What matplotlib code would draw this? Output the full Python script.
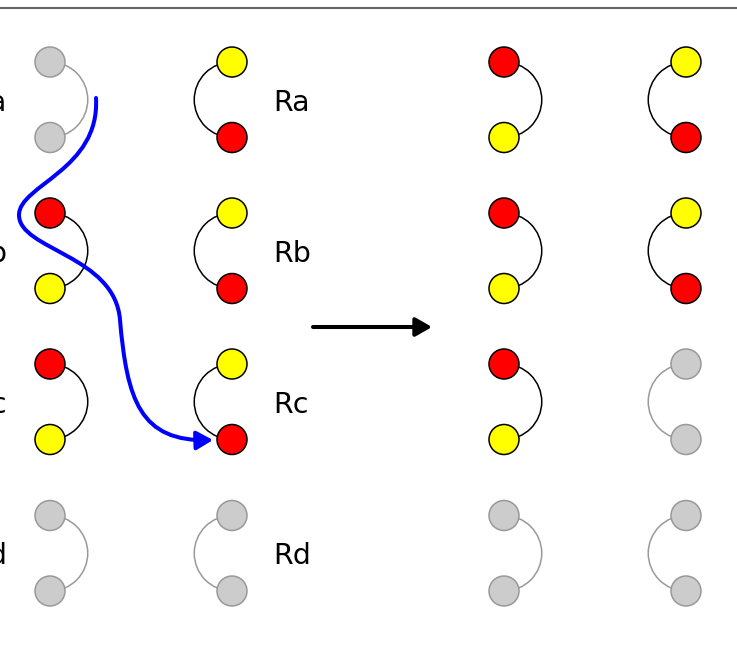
import matplotlib
matplotlib.use("Agg")
import matplotlib.pyplot as plt
from matplotlib.patches import Circle, Arc, FancyArrowPatch
from matplotlib.path import Path

# column centres, top circle of each pair, gap to bottom circle (pixels)
col_x = [50, 232, 504, 686]
pair_top = [62, 213, 364, 515.5]
pair_gap = 75.5
radius = 15

# bulge side of the connecting arc per column (+1 right, -1 left)
bulge = [1, -1, 1, -1]

# (top colour, bottom colour) per column and row; None = greyed out
pairs = [
    [None, ("red", "yellow"), ("red", "yellow"), None],
    [("yellow", "red"), ("yellow", "red"), ("yellow", "red"), None],
    [("red", "yellow"), ("red", "yellow"), ("red", "yellow"), None],
    [("yellow", "red"), ("yellow", "red"), None, None],
]

left_labels = ["La", "Lb", "Lc", "Ld"]
right_labels = ["Ra", "Rb", "Rc", "Rd"]

# blue path: cubic bezier vertices
blue_verts = [(96, 98), (100, 170), (19, 185), (19, 215),
              (19, 250), (115, 255), (120, 320),
              (127, 400), (140, 442), (213, 440)]

grey_fill = "#cccccc"
grey_edge = "#999999"

fig = plt.figure(figsize=(7.37, 6.56), dpi=100)
ax = fig.add_axes([0, 0, 1, 1])
ax.set_xlim(0, 737)
ax.set_ylim(656, 0)
ax.axis("off")

# top rule
ax.plot([0, 737], [7.8, 7.8], color="#666666", lw=1.5, solid_capstyle="butt")

for c, x in enumerate(col_x):
    for r, y in enumerate(pair_top):
        p = pairs[c][r]
        mid = y + pair_gap / 2
        if p is None:
            fills = (grey_fill, grey_fill)
            ec = grey_edge
        else:
            fills = p
            ec = "black"
        if bulge[c] > 0:
            t1, t2 = -90, 90
        else:
            t1, t2 = 90, 270
        ax.add_patch(Arc((x, mid), pair_gap, pair_gap, theta1=t1, theta2=t2,
                         color=ec, lw=1.1, zorder=1))
        ax.add_patch(Circle((x, y), radius, facecolor=fills[0], edgecolor=ec,
                            lw=1.1, zorder=2))
        ax.add_patch(Circle((x, y + pair_gap), radius, facecolor=fills[1],
                            edgecolor=ec, lw=1.1, zorder=2))

for r, y in enumerate(pair_top):
    base = y + pair_gap / 2 + 11
    ax.text(7, base, left_labels[r], ha="right", va="baseline", fontsize=20.5,
            family="DejaVu Sans")
    ax.text(273, base, right_labels[r], ha="left", va="baseline", fontsize=20.5,
            family="DejaVu Sans")

# black horizontal arrow
ax.add_patch(FancyArrowPatch((313, 327), (432, 327),
                             arrowstyle="-|>,head_length=0.7,head_width=0.4",
                             mutation_scale=14, color="black", lw=2.9,
                             shrinkA=0, shrinkB=0, zorder=3))

# blue curved arrow
codes = [Path.MOVETO] + [Path.CURVE4] * 9
blue = FancyArrowPatch(path=Path(blue_verts, codes),
                       arrowstyle="-|>,head_length=0.7,head_width=0.4",
                       mutation_scale=14, color="#0000ff", lw=2.9, zorder=4)
ax.add_patch(blue)

fig.savefig("out.png", dpi=100)
